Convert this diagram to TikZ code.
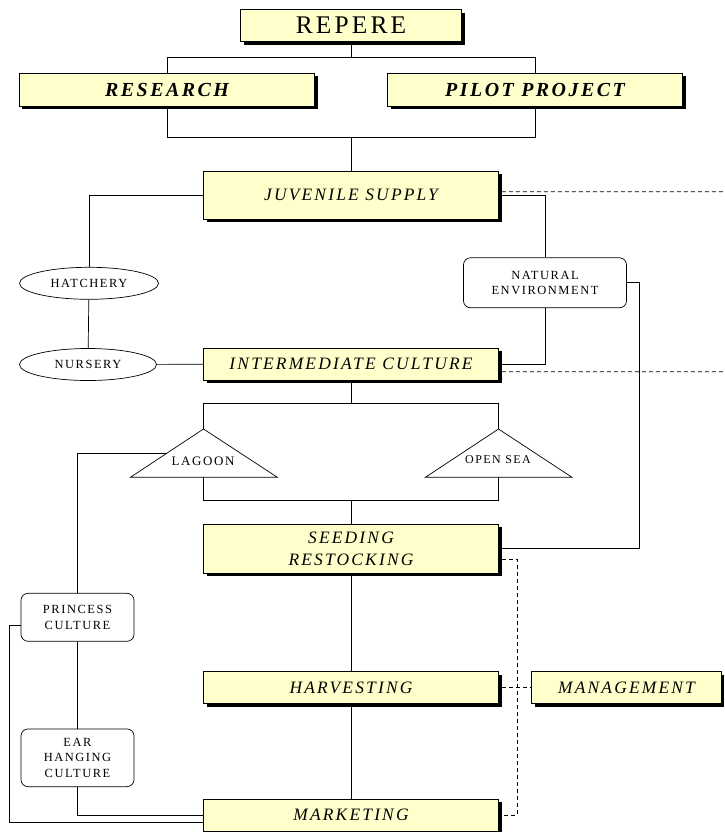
\documentclass[tikz,border=0pt]{standalone}
\usepackage{fontspec}
\setmainfont{Liberation Serif}
\newfontfamily\boxfont[LetterSpace=12.5]{Liberation Serif}
\usepackage{tikz}
\usetikzlibrary{shapes.geometric, shadows, positioning}
\definecolor{boxyellow}{RGB}{255,255,204}
\tikzstyle{stage} = [rectangle, draw=black, fill=boxyellow, minimum width=295bp, minimum height=32bp, align=center, drop shadow={shadow xshift=3bp, shadow yshift=-3bp, fill=black, opacity=1}, font=\boxfont\itshape\fontsize{17.5}{22}\selectfont]
\tikzstyle{site} = [ellipse, draw=black, minimum width=139bp, minimum height=32bp, inner sep=0pt, font=\boxfont\fontsize{12.5}{15}\selectfont]
\tikzstyle{place} = [rectangle, rounded corners=7bp, draw=black, minimum width=113bp, align=center, inner sep=0pt, font=\boxfont\fontsize{12.5}{15.5}\selectfont]
\tikzstyle{link} = [draw=black]
\tikzstyle{mgmt} = [draw=black, dash pattern=on 4bp off 3bp]

\begin{document}
\begin{tikzpicture}[x=1bp, y=-1bp, line width=0.7bp]
\useasboundingbox (0,0) rectangle (725,832);
% head of the tree
\node (repere) [stage, minimum width=221bp, font=\boxfont\fontsize{25.5}{30}\selectfont] at (351,25.5) {REPERE};
\node (research) [stage, minimum height=33bp, font=\boxfont\bfseries\itshape\fontsize{20}{24}\selectfont] at (167,89.7) {RESEARCH};
\node (pilot) [stage, minimum height=33bp, font=\boxfont\bfseries\itshape\fontsize{20}{24}\selectfont] at (535,89.7) {PILOT PROJECT};
\coordinate (topbar) at (351,57.3);
\coordinate (basebar) at (351,137.7);
\draw [link] (repere) -- (topbar);
\draw [link] (research) |- (topbar) -| (pilot);
\draw [link] (research) |- (basebar) -| (pilot);
% main chain
\node (juv) [stage, minimum height=48bp] at (351,195) {JUVENILE SUPPLY};
\node (ic) [stage] at (351,364) {INTERMEDIATE CULTURE};
\node (seed) [stage, minimum height=49bp] at (351,548.8) {SEEDING\\RESTOCKING};
\node (harvest) [stage] at (351,687.8) {HARVESTING};
\node (mkt) [stage] at (351,815) {MARKETING};
\node (mgmt) [stage, minimum width=189.5bp] at (626.5,687.8) {MANAGEMENT};
\draw [link] (basebar) -- (juv);
% side branches
\node (hatchery) [site] at (89,283.3) {HATCHERY};
\node (nursery) [site, minimum width=137bp] at (88,364.5) {NURSERY};
\node (natenv) [place, minimum width=163bp, minimum height=50bp] at (545,282.8) {NATURAL\\ENVIRONMENT};
\node (princess) [place, minimum height=48bp] at (77.5,617.3) {PRINCESS\\CULTURE};
\node (ear) [place, minimum height=57.7bp] at (77.5,757.8) {EAR\\HANGING\\CULTURE};
\draw [link] (juv.west) -| (hatchery);
\draw [link] (hatchery) -- (nursery);
\draw [link] (nursery) -- (ic);
\draw [link] (juv.east) -| (natenv);
\draw [link] (natenv) |- (ic.east);
\draw [link] (natenv.east) -- ++(12.5,0) |- (seed.east);
% lagoon / open sea
\coordinate (lagtop) at (203.5,429);
\coordinate (lagbase) at (203.5,477.3);
\coordinate (lagside) at (166.7,453.3);
\coordinate (seatop) at (498.5,429);
\coordinate (seabase) at (498.5,477.3);
\draw [link, fill=white] (lagtop) -- (130.4,477.3) -- (277.4,477.3) -- cycle;
\draw [link, fill=white] (seatop) -- (425.4,477.3) -- (572,477.3) -- cycle;
\node (lagoon) [font=\boxfont\fontsize{13}{15}\selectfont] at (203,461.5) {LAGOON};
\node (opensea) [font=\boxfont\fontsize{12}{14}\selectfont] at (498,460) {OPEN SEA};
\coordinate (icbar) at (351,403.3);
\coordinate (seabar) at (351,500.7);
\draw [link] (ic) -- (icbar);
\draw [link] (lagtop) |- (icbar) -| (seatop);
\draw [link] (lagbase) |- (seabar) -| (seabase);
\draw [link] (seabar) -- (seed);
\draw [link] (lagside) -| (princess);
\draw [link] (princess) -- (ear);
\draw [link] (ear) |- (mkt.west);
\draw [link] ([yshift=-7.7bp]princess.west) -- ++(-11.6,0) |- ([yshift=-7.7bp]mkt.west);
\draw [link] (seed) -- (harvest);
\draw [link] (harvest) -- (mkt);
% management links
\coordinate (edgetop) at (725,191.7);
\coordinate (edgemid) at (725,371.7);
\draw [mgmt] ([xshift=3bp,yshift=3.3bp]juv.east) -- (edgetop);
\draw [mgmt] ([xshift=3bp,yshift=-7.7bp]ic.east) -- (edgemid);
\draw [mgmt] ([xshift=3bp,yshift=-10.2bp]seed.east) -- ++(15,0) |- ([xshift=3bp]mkt.east);
\draw [mgmt] ([xshift=3bp]harvest.east) -- (mgmt);
\end{tikzpicture}
\end{document}
